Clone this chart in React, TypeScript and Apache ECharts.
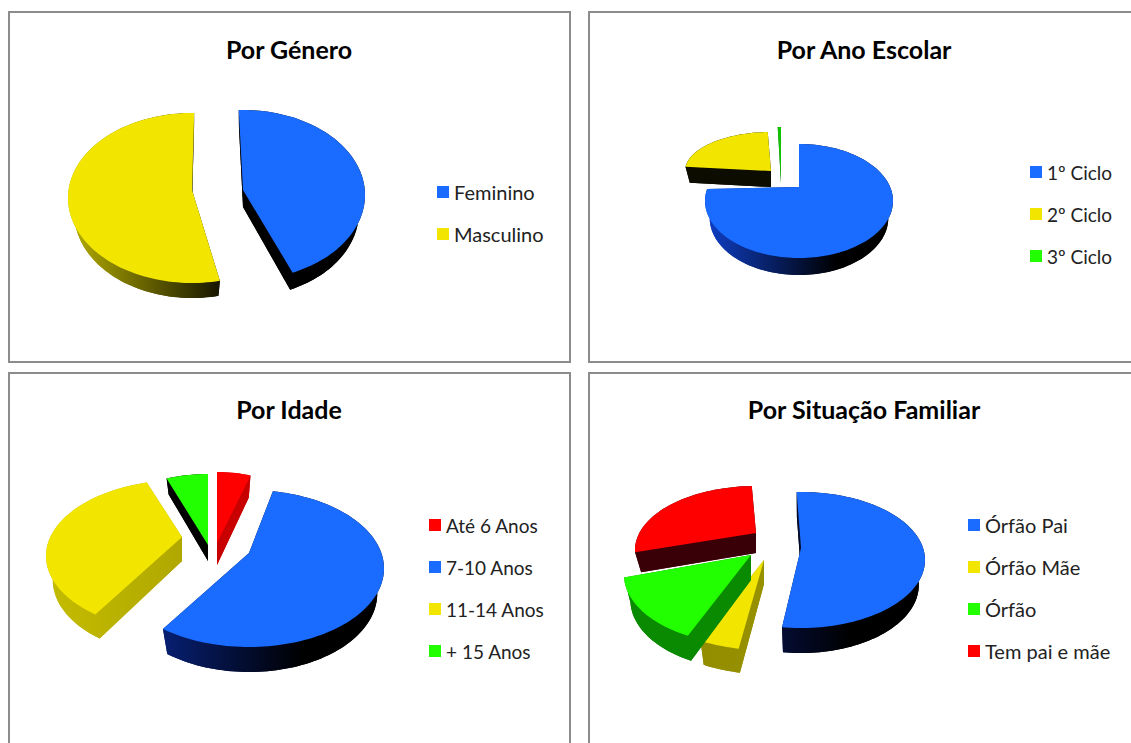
import React, { useEffect, useRef } from "react";
import * as echarts from "echarts";

const FONT = "Lato";
const BLUE = "#1a6bff";
const YELLOW = "#f2e600";
const GREEN = "#22ff00";
const RED = "#ff0000";

// values (percent)
const generoNames = ["Feminino", "Masculino"];
const generoValues = [45, 55];
const anoNames = ["1º Ciclo", "2º Ciclo", "3º Ciclo"];
const anoValues = [78.4, 21, 0.6];
const idadeNames = ["Até 6 Anos", "7-10 Anos", "11-14 Anos", "+ 15 Anos"];
const idadeValues = [4.5, 56.5, 34, 5];
const familiaNames = ["Órfão Pai", "Órfão Mãe", "Órfão", "Tem pai e mãe"];
const familiaValues = [53, 5, 17, 25];

const SHRINK = 0.95;

type Wedge = {
  ax: number; ay: number; rx: number; ry: number; off: number; depth: number;
  color: string; wall: [string, string]; warp?: [number, number];
};
type Panel = {
  title: string; titleX: number; titleY: number;
  legendX: number; legendY: number; legendFont: number;
  start: number; names: string[]; values: number[]; wedges: Wedge[];
};

const panels: Panel[] = [
  {
    title: "Por Género", titleX: 284, titleY: 31, legendX: 437, legendY: 182, legendFont: 20, start: -2,
    names: generoNames, values: generoValues,
    wedges: [
      { ax: 243, ay: 190, rx: 122, ry: 85, off: 5, depth: 17, color: BLUE, wall: ["#000000", "#000000"], warp: [0, -4] },
      { ax: 192, ay: 190, rx: 124, ry: 85, off: 8, depth: 15, color: YELLOW, wall: ["#b8b000", "#000000"], warp: [7, 3] },
    ],
  },
  {
    title: "Por Ano Escolar", titleX: 859, titleY: 31, legendX: 1030, legendY: 162, legendFont: 19, start: 0,
    names: anoNames, values: anoValues,
    wedges: [
      { ax: 799, ay: 187, rx: 94, ry: 57, off: 14, depth: 17, color: BLUE, wall: ["#0f3fc8", "#000000"] },
      { ax: 771, ay: 171, rx: 86, ry: 39, off: 0, depth: 16, color: YELLOW, wall: ["#0c0c00", "#0c0c00"], warp: [-6, 0] },
      { ax: 781, ay: 181, rx: 88, ry: 54, off: 0, depth: 2, color: "#12c400", wall: ["#006600", "#006600"] },
    ],
  },
  {
    title: "Por Idade", titleX: 284, titleY: 391, legendX: 429, legendY: 515, legendFont: 19, start: 0,
    names: idadeNames, values: idadeValues,
    wedges: [
      { ax: 217, ay: 543, rx: 120, ry: 90, off: 19, depth: 22, color: RED, wall: ["#c80000", "#c80000"] },
      { ax: 249, ay: 553, rx: 135, ry: 78.5, off: 15.5, depth: 25, color: BLUE, wall: ["#0a2a9a", "#000000"], warp: [-6, 0] },
      { ax: 182, ay: 537, rx: 136, ry: 76, off: 19, depth: 24, color: YELLOW, wall: ["#c4bc00", "#a8a000"], warp: [0, 3] },
      { ax: 208, ay: 545, rx: 134, ry: 90, off: 19, depth: 16, color: GREEN, wall: ["#000000", "#000000"] },
    ],
  },
  {
    title: "Por Situação Familiar", titleX: 859, titleY: 391, legendX: 968, legendY: 515, legendFont: 20, start: -2,
    names: familiaNames, values: familiaValues,
    wedges: [
      { ax: 801, ay: 548, rx: 124, ry: 68, off: 12, depth: 25, color: BLUE, wall: ["#0a1f80", "#000000"] },
      { ax: 764, ay: 560, rx: 124, ry: 65, off: 25, depth: 24, color: YELLOW, wall: ["#8f8a00", "#9a9400"], warp: [3, 4] },
      { ax: 751, ay: 555, rx: 127, ry: 70, off: 20, depth: 25, color: GREEN, wall: ["#0a8a00", "#0a8a00"], warp: [3, 0] },
      { ax: 756, ay: 533, rx: 121, ry: 64, off: 17, depth: 20, color: RED, wall: ["#3a0008", "#3a0008"] },
    ],
  },
];

const frames = [
  { x: 9, y: 12, width: 561, height: 350 },
  { x: 589, y: 12, width: 560, height: 350 },
  { x: 9, y: 373, width: 561, height: 390 },
  { x: 589, y: 373, width: 560, height: 390 },
];

function wedgeItem(w: Wedge, startDeg: number, endDeg: number) {
  const t0 = startDeg + (w.warp ? w.warp[0] : 0);
  const t1 = endDeg + (w.warp ? w.warp[1] : 0);
  const cy = w.ay + w.off;
  const arc: number[][] = [];
  const steps = Math.max(2, Math.ceil((t1 - t0) / 2));
  for (let i = 0; i <= steps; i++) {
    const t = ((t0 + ((t1 - t0) * i) / steps) * Math.PI) / 180;
    arc.push([w.ax + w.rx * Math.sin(t), cy - w.ry * Math.cos(t)]);
  }
  const down = (p: number[]) => [w.ax + (p[0] - w.ax) * SHRINK, p[1] + w.depth];
  const apex = [w.ax, w.ay];
  const top = [apex, ...arc];
  const wallFill = {
    type: "linear", global: true,
    x: w.ax - w.rx, y: 0, x2: w.ax + w.rx * 0.4, y2: 0,
    colorStops: [{ offset: 0, color: w.wall[0] }, { offset: 1, color: w.wall[1] }],
  };
  const first = arc[0];
  const last = arc[arc.length - 1];
  const poly = (points: number[][], fill: any) => ({
    type: "polygon", shape: { points }, style: { fill, stroke: null },
  });
  return {
    type: "group",
    children: [
      poly(top.map(down), wallFill),
      poly([apex, first, down(first), down(apex)], wallFill),
      poly([apex, last, down(last), down(apex)], wallFill),
      poly([...arc, ...arc.slice().reverse().map(down)], wallFill),
      poly(top, w.color),
    ],
  };
}

function buildSeries() {
  const out: any[] = [];
  panels.forEach((p) => {
    const total = p.values.reduce((a, b) => a + b, 0);
    let running = 0;
    p.names.forEach((name, i) => {
      const before = running;
      running += p.values[i];
      out.push({
        type: "custom",
        name,
        coordinateSystem: "none",
        silent: true,
        itemStyle: { color: name === "3º Ciclo" ? GREEN : p.wedges[i].color },
        data: [[p.values[i]]],
        renderItem: (_params: any, api: any) => {
          const v = api.value(0);
          const a0 = p.start + (before / total) * 360;
          const a1 = a0 + (v / total) * 360;
          return wedgeItem(p.wedges[i], a0, a1);
        },
      });
    });
  });
  return out;
}

export default function App() {
  const ref = useRef<HTMLDivElement>(null);
  useEffect(() => {
    document.body.style.margin = "0";
    document.body.style.overflow = "hidden";
    const chart = echarts.init(ref.current!, undefined, { renderer: "svg" });
    chart.setOption({
      animation: false,
      backgroundColor: "#ffffff",
      title: panels.map((p) => ({
        text: p.title,
        left: p.titleX,
        top: p.titleY,
        textAlign: "center",
        textStyle: { fontFamily: FONT, fontWeight: "bold", fontSize: 25, color: "#000000" },
      })),
      legend: panels.map((p) => ({
        data: p.names,
        orient: "vertical",
        left: p.legendX,
        top: p.legendY,
        icon: "rect",
        itemWidth: 12,
        itemHeight: 12,
        itemGap: 22,
        padding: 0,
        selectedMode: false,
        textStyle: { fontFamily: FONT, fontSize: p.legendFont, color: "#222222", lineHeight: 20 },
      })),
      graphic: frames.map((f) => ({
        type: "rect",
        silent: true,
        z: -1,
        shape: { x: f.x, y: f.y, width: f.width, height: f.height },
        style: { fill: "none", stroke: "#8c8c8c", lineWidth: 2 },
      })),
      series: buildSeries(),
    });
    return () => chart.dispose();
  }, []);
  return <div ref={ref} style={{ position: "absolute", left: 0, top: 0, width: 1131, height: 743 }} />;
}
